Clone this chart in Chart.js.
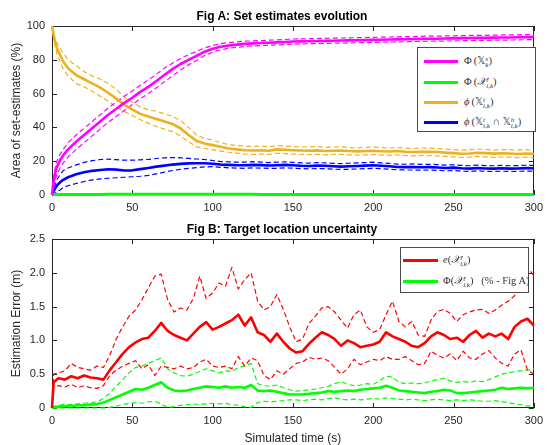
<!DOCTYPE html>
<html>
<head>
<meta charset="utf-8">
<script src="https://cdn.jsdelivr.net/npm/chart.js@4.4.1/dist/chart.umd.min.js"></script>
<style>
  body { margin:0; background:#fff; }
  #wrap { position:relative; width:549px; height:445px; overflow:hidden; background:#fff; }
  canvas { position:absolute; left:0; }
  .ttl { position:absolute; left:0; width:564px; text-align:center; font:bold 12px "Liberation Sans", Arial, sans-serif; color:#000; line-height:14px; }
  .leg { position:absolute; border:1px solid #4a4a4a; background:#fff; }
  .row { position:absolute; left:0; right:0; height:0; }
  .ln { position:absolute; height:3px; }
  .tx { position:absolute; top:-7px; white-space:nowrap; font:10.5px "Liberation Serif", "DejaVu Serif", serif; color:#333; line-height:14px; }
  .ms { display:inline-block; vertical-align:-3px; line-height:6.5px; font-size:7px; font-style:italic; }
  .ms b { display:block; font-weight:normal; }
  .bb { font-family:"DejaVu Sans", "DejaVu Serif", sans-serif; font-size:10px; }
</style>
</head>
<body>
<div id="wrap">
  <canvas id="ca" width="549" height="222" style="top:0"></canvas>
  <canvas id="cb" width="549" height="223" style="top:222px"></canvas>
  <div class="ttl" style="top:9px">Fig A: Set estimates evolution</div>
  <div class="ttl" style="top:222px">Fig B: Target location uncertainty</div>

  <div class="leg" style="left:417px;top:47px;width:117px;height:83px">
    <div class="row" style="top:13px"><span class="ln" style="left:6px;width:34px;top:-1.5px;background:#ff00ff"></span><span class="tx" style="left:46px">Φ&thinsp;(<span class="bb">𝕏</span><span class="ms"><b>s</b><b>k</b></span>)</span></div>
    <div class="row" style="top:34px"><span class="ln" style="left:6px;width:34px;top:-1.5px;background:#00ff00"></span><span class="tx" style="left:46px">Φ&thinsp;(<i>𝒳</i><span class="ms"><b>t</b><b>i,k</b></span>)</span></div>
    <div class="row" style="top:54px"><span class="ln" style="left:6px;width:34px;top:-1.5px;background:#edb120"></span><span class="tx" style="left:46px"><i>ϕ</i>&thinsp;(<span class="bb">𝕏</span><span class="ms"><b>t</b><b>i,k</b></span>)</span></div>
    <div class="row" style="top:74px"><span class="ln" style="left:6px;width:34px;top:-1.5px;background:#0000ff"></span><span class="tx" style="left:46px"><i>ϕ</i>&thinsp;(<span class="bb">𝕏</span><span class="ms"><b>t</b><b>i,k</b></span> ∩ <span class="bb">𝕏</span><span class="ms"><b>h</b><b>i,k</b></span>)</span></div>
  </div>

  <div class="leg" style="left:400px;top:247px;width:127px;height:44px">
    <div class="row" style="top:12px"><span class="ln" style="left:2px;width:35px;top:-1.5px;background:#ff0000"></span><span class="tx" style="left:42px"><i>e</i>(<i>𝒳</i><span class="ms"><b>t</b><b>i,k</b></span>)</span></div>
    <div class="row" style="top:33px"><span class="ln" style="left:2px;width:35px;top:-1.5px;background:#00ff00"></span><span class="tx" style="left:42px">Φ(<i>𝒳</i><span class="ms"><b>t</b><b>i,k</b></span>)&nbsp;&nbsp;&nbsp;(% - Fig A)</span></div>
  </div>
</div>

<script>
// ---------- tick labels ----------
const xTicks  = [0, 50, 100, 150, 200, 250, 300];
const yTicksA = [0, 20, 40, 60, 80, 100];
const yTicksB = [0, 0.5, 1, 1.5, 2, 2.5];

// ---------- Fig A: time samples (s) ----------
const tA = [0,1,2,3,5,7,10,15,20,25,30,35,40,45,50,55,60,65,70,75,80,85,90,95,100,105,110,115,120,125,130,135,140,145,150,155,160,165,170,175,180,185,190,195,200,205,210,215,220,225,230,235,240,245,250,255,260,265,270,275,280,285,290,295,300];

// Phi(X_k^s) magenta
const magMean = [0,8,13,16.5,20.5,23.5,
  27,31.5,35.5,39.5,43.5,47.5,51,54.5,57.5,61,
  64,67.5,71,74.5,77.5,80,82.3,84.8,86.5,87.7,
  88.5,89,89.4,89.7,89.9,90.1,90.3,90.5,90.8,90.9,
  91,91.1,91.2,91.3,91.4,91.5,91.6,91.7,91.8,91.9,
  92,92.1,92.2,92.3,92.4,92.5,92.5,92.6,92.7,92.8,
  92.9,93,93,93.1,93.2,93.2,93.3,93.4,93.4];
const magUp = [0,10,16,20,24,27,
  31,35.5,39.5,43.5,47.5,51.5,55,58.5,61.5,65,
  68,71.5,75,78,80.8,83,85,87,88.5,89.5,
  90.2,90.6,91,91.2,91.4,91.6,91.8,92,92.3,92.4,
  92.5,92.6,92.7,92.8,92.9,93,93.1,93.2,93.3,93.4,
  93.5,93.6,93.7,93.8,93.9,94,94,94.1,94.2,94.3,
  94.4,94.5,94.5,94.6,94.7,94.7,94.8,94.9,94.9];
const magLo = [0,5,9,12,16,19,
  22.5,27,31,35,39,43,46.5,50,53.5,57,
  60,63.5,67,70.5,74,77,79.6,82.5,84.5,85.9,
  86.8,87.4,87.8,88.2,88.4,88.6,88.8,89,89.3,89.4,
  89.5,89.6,89.7,89.8,89.9,90,90.1,90.2,90.3,90.4,
  90.5,90.6,90.7,90.8,90.9,91,91,91.1,91.2,91.3,
  91.4,91.5,91.5,91.6,91.7,91.7,91.8,91.9,91.9];

// Phi(X_ik^t) green
const grnA = [0,0.2,0.3,0.3,0.3,0.3,
  0.3,0.3,0.3,0.3,0.3,0.4,0.4,0.4,0.5,0.5,
  0.5,0.5,0.4,0.4,0.4,0.4,0.4,0.4,0.4,0.4,
  0.4,0.4,0.4,0.4,0.3,0.3,0.3,0.3,0.3,0.3,
  0.3,0.3,0.3,0.3,0.3,0.3,0.3,0.3,0.3,0.3,
  0.3,0.3,0.3,0.3,0.3,0.3,0.3,0.3,0.3,0.3,
  0.3,0.3,0.3,0.3,0.3,0.3,0.3,0.3,0.3];

// phi(X_ik^t) orange
const orMean = [100,95,90,87,83,79,
  75,71,68.5,66,63.5,60.5,57,53.5,50.5,48,
  46.5,45,43.5,42,39.5,35.5,32,30.5,29.5,28.5,
  27.5,27,26.5,26.3,26.5,26.2,27,26.8,26.5,26.3,
  26.2,26.4,26,26.2,26.3,26,25.8,26,26.2,25.9,
  25.7,26,25.6,25.4,25.6,25.5,25.4,25.1,24.8,24.4,
  24.6,25,24.8,24.5,24.7,24.6,24.3,24.6,24.4];
const orUp = [100,96,92,90,87,84,
  80,76.5,73,70.5,68.5,66,62.5,58,55,52,
  50.5,49.5,48,46.5,44,40,35.5,33.5,32.5,31,
  29.8,29.3,29,28.7,29,28.5,29.3,29,28.7,28.4,
  28.5,28.6,28.2,28.4,28.5,28.1,27.9,28.2,28.4,28,
  27.8,28.1,27.7,27.5,27.8,27.7,27.5,27.2,26.9,26.5,
  26.8,27.2,27,26.6,26.8,26.8,26.5,26.8,26.5];
const orLo = [100,94,88,84,79,74.5,
  70.5,66,64,61.5,58.5,55.5,52,49.5,47,44.5,
  42.5,40.5,39,37.5,35,31.5,28.5,27.5,26.8,26,
  25.3,24.8,24.2,24,24.2,24,24.7,24.5,24.2,24.1,
  23.9,24.1,23.8,24,24,23.8,23.6,23.8,24,23.7,
  23.5,23.8,23.4,23.2,23.4,23.3,23.2,22.9,22.6,22.2,
  22.4,22.8,22.6,22.3,22.5,22.4,22.1,22.4,22.2];

// phi(X_ik^t ∩ X_ik^h) blue
const blMean = [0,2,4,5.5,7.5,9,
  10.5,12.3,13.5,14.3,14.8,15.2,15,14.5,14.6,15.3,
  16,16.8,17.4,18,18.4,18.7,18.8,18.8,18.5,18,
  17.8,17.6,17.6,17.8,17.7,17.5,17.6,17.8,17.6,17.3,
  17.2,17.4,17.3,17,16.8,17,17.2,17.4,17.6,17.3,
  17,16.6,16.5,16.6,16.4,16.5,16.3,16,16.2,15.8,
  15.6,16,15.7,15.6,15.8,15.6,15.7,15.9,15.8];
const blUp = [0,3,6,9,12,14.5,
  16,17.8,19.3,20.3,21,21.2,20.9,20.6,20.6,20.8,
  21.1,21.6,22,22.2,22,21.7,21.3,21,20.4,19.8,
  19.6,19.4,19.5,19.7,19.5,19.2,19.4,19.6,19.3,19,
  18.9,19.2,19,18.7,18.6,18.8,19,19.2,19.4,19,
  18.7,18.3,18.2,18.4,18.1,18.2,18,17.7,17.9,17.5,
  17.3,17.7,17.4,17.3,17.5,17.3,17.4,17.6,17.5];
const blLo = [0,0.5,1,2,3,4.5,
  5.5,6.8,8,8.9,9.5,9.9,10.2,10.5,10.8,11.1,
  11.6,12.5,13.5,14.5,15.2,15.7,16.2,16.6,16.8,16.4,
  16.1,15.9,15.8,16,15.9,15.8,15.8,16,15.9,15.6,
  15.5,15.6,15.6,15.3,15.1,15.2,15.4,15.6,15.8,15.6,
  15.3,14.9,14.8,14.8,14.7,14.8,14.6,14.3,14.5,14.1,
  13.9,14.3,14,13.9,14.1,13.9,14,14.2,14.1];

// ---------- Fig B: time samples (s) ----------
const tB = [0,1,4,8,12,16,20,24,28,32,36,40,44,48,52,56,60,64,68,72,76,80,84,88,92,96,100,104,108,112,116,120,124,128,132,136,140,144,148,152,156,160,164,168,172,176,180,184,188,192,196,200,204,208,212,216,220,224,228,232,236,240,244,248,252,256,260,264,268,272,276,280,284,288,292,296,300];

// e(X_ik^t) red (m)
const redMean = [0,0.38,0.44,0.42,0.47,0.44,0.48,0.45,0.44,0.42,
  0.56,0.68,0.8,0.9,0.97,1.02,1.04,1.14,1.26,1.14,
  1.08,1.04,1.0,1.1,1.2,1.27,1.16,1.2,1.25,1.3,
  1.38,1.22,1.34,1.12,1.08,0.98,1.1,0.98,0.88,0.82,
  0.84,0.95,1.04,1.12,1.08,1.02,0.92,1.0,0.96,0.9,
  0.92,0.94,0.98,1.12,1.06,1.02,0.98,0.92,0.9,0.96,
  1.06,1.12,1.08,1.02,1.04,0.98,1.08,1.14,1.04,1.1,
  1.06,1.1,1.02,1.2,1.28,1.32,1.22];
const redUp = [0,0.5,0.52,0.55,0.66,0.6,0.58,0.56,0.62,0.6,
  0.78,1.02,1.2,1.36,1.45,1.6,1.78,1.95,1.98,1.6,
  1.42,1.48,1.45,1.62,1.95,1.62,1.7,1.85,1.8,2.08,
  1.76,1.9,2.0,1.58,1.45,1.5,1.68,1.46,1.2,0.98,
  1.02,1.25,1.36,1.48,1.5,1.42,1.3,1.18,1.38,1.45,
  1.2,1.12,1.16,1.38,1.58,1.28,1.2,1.28,1.08,1.06,
  1.3,1.43,1.46,1.4,1.28,1.38,1.42,1.45,1.46,1.4,
  1.45,1.52,1.58,1.66,1.85,2.08,1.96];
const redLo = [0,0.3,0.33,0.31,0.35,0.3,0.33,0.3,0.29,0.33,
  0.48,0.56,0.62,0.66,0.7,0.58,0.64,0.48,0.62,0.6,
  0.58,0.62,0.58,0.6,0.68,0.72,0.62,0.6,0.62,0.58,
  0.76,0.62,0.74,0.7,0.48,0.42,0.55,0.5,0.58,0.66,
  0.68,0.75,0.72,0.74,0.7,0.6,0.5,0.58,0.72,0.64,
  0.68,0.72,0.7,0.76,0.72,0.72,0.76,0.7,0.64,0.66,
  0.84,0.78,0.74,0.8,0.7,0.84,0.74,0.72,0.8,0.85,
  0.74,0.66,0.62,0.8,0.86,0.56,0.5];

// Phi(X_ik^t) green (% - Fig A)
const gMean = [0,0.01,0.02,0.03,0.03,0.04,0.04,0.05,0.06,0.08,
  0.12,0.16,0.2,0.24,0.28,0.27,0.3,0.34,0.38,0.3,
  0.26,0.25,0.26,0.28,0.3,0.32,0.31,0.3,0.32,0.3,
  0.31,0.3,0.34,0.26,0.25,0.26,0.24,0.22,0.2,0.2,
  0.2,0.21,0.22,0.23,0.25,0.24,0.25,0.26,0.25,0.27,
  0.28,0.29,0.3,0.33,0.3,0.26,0.25,0.24,0.23,0.22,
  0.24,0.25,0.27,0.26,0.22,0.22,0.23,0.24,0.25,0.26,
  0.27,0.3,0.28,0.29,0.3,0.29,0.3];
const gUp = [0,0.02,0.04,0.05,0.05,0.06,0.07,0.08,0.09,0.14,
  0.22,0.32,0.42,0.52,0.6,0.62,0.66,0.7,0.74,0.58,
  0.52,0.48,0.47,0.5,0.54,0.58,0.55,0.52,0.55,0.54,
  0.6,0.62,0.66,0.36,0.33,0.32,0.34,0.3,0.27,0.25,
  0.26,0.27,0.28,0.3,0.32,0.36,0.39,0.35,0.33,0.34,
  0.36,0.35,0.4,0.47,0.46,0.38,0.36,0.37,0.36,0.37,
  0.4,0.42,0.44,0.4,0.38,0.39,0.38,0.4,0.39,0.42,
  0.46,0.5,0.52,0.54,0.55,0.56,0.58];
const gLo = [0,0,0,0,0,0,0,0,0,0,
  0.01,0.03,0.05,0.07,0.08,0.07,0.09,0.1,0.06,0.01,
  0.02,0.04,0.05,0.06,0.05,0.06,0.07,0.06,0.07,0.05,
  0.04,0.02,0.01,0.08,0.1,0.09,0.1,0.11,0.12,0.12,
  0.11,0.12,0.13,0.12,0.14,0.15,0.13,0.12,0.13,0.12,
  0.13,0.14,0.13,0.15,0.14,0.13,0.12,0.13,0.12,0.11,
  0.12,0.13,0.12,0.11,0.12,0.11,0.12,0.11,0.1,0.1,
  0.11,0.09,0.08,0.06,0.05,0.03,0.03];

// ---------- helpers ----------
const C = { mag:'#ff00ff', grn:'#00ff00', org:'#edb120', blu:'#0000ff', red:'#ff0000' };
function pts(t, v) { return t.map((x, i) => ({ x: x, y: v[i] })); }
function solid(t, v, color, w) {
  return { data: pts(t, v), borderColor: color, borderWidth: w || 2.6, pointRadius: 0, tension: 0, fill: false, order: 0, clip: false };
}
function dashed(t, v, color) {
  return { data: pts(t, v), borderColor: color, borderWidth: 1.2, borderDash: [5, 3], pointRadius: 0, tension: 0, fill: false, order: 1, clip: false };
}

const AXC = '#262626';
const boxPlugin = {
  id: 'mbox',
  beforeDatasetsDraw(chart) {
    const { ctx, chartArea: a, scales } = chart;
    ctx.save();
    ctx.strokeStyle = AXC;
    ctx.lineWidth = 1;
    ctx.strokeRect(Math.round(a.left) + 0.5, Math.round(a.top) + 0.5, Math.round(a.right - a.left) - 1, Math.round(a.bottom - a.top) - 1);
    const L = 5;
    ctx.beginPath();
    scales.x.ticks.forEach(t => {
      const px = Math.round(scales.x.getPixelForValue(t.value)) + 0.5;
      ctx.moveTo(px, a.bottom); ctx.lineTo(px, a.bottom - L);
      ctx.moveTo(px, a.top); ctx.lineTo(px, a.top + L);
    });
    scales.y.ticks.forEach(t => {
      const py = Math.round(scales.y.getPixelForValue(t.value)) + 0.5;
      ctx.moveTo(a.left, py); ctx.lineTo(a.left + L, py);
      ctx.moveTo(a.right, py); ctx.lineTo(a.right - L, py);
    });
    ctx.stroke();
    ctx.restore();
  }
};

const tickFont = { family: '"Liberation Sans", Arial, sans-serif', size: 11 };
const titleFont = { family: '"Liberation Sans", Arial, sans-serif', size: 12, lineHeight: 1 };

function xScale(xh, withTitle) {
  return {
    type: 'linear', min: 0, max: 300,
    afterBuildTicks: s => { s.ticks = xTicks.map(v => ({ value: v })); },
    afterFit: s => { s.height = xh; },
    ticks: { font: tickFont, color: AXC, padding: 6, autoSkip: false, maxRotation: 0 },
    grid: { display: false, drawTicks: false }, border: { display: false },
    title: withTitle ? { display: true, text: 'Simulated time (s)', font: titleFont, color: AXC, padding: { top: 0, bottom: 0 } } : { display: false }
  };
}
function yScale(min, max, ticksArr, label) {
  return {
    type: 'linear', min: min, max: max,
    afterBuildTicks: s => { s.ticks = ticksArr.map(v => ({ value: v })); },
    afterFit: s => { s.width = 52; },
    ticks: { font: tickFont, color: AXC, padding: 7, autoSkip: false },
    grid: { display: false, drawTicks: false }, border: { display: false },
    title: { display: true, text: label, font: titleFont, color: AXC, padding: { top: 11, bottom: 0 } }
  };
}
const common = {
  responsive: false, animation: false, devicePixelRatio: 1,
  plugins: { legend: { display: false }, title: { display: false }, tooltip: { enabled: false } },
  elements: { line: { borderCapStyle: 'butt', borderJoinStyle: 'round' } }
};

new Chart(document.getElementById('ca'), {
  type: 'line',
  data: { datasets: [
    solid(tA, magMean, C.mag), dashed(tA, magUp, C.mag), dashed(tA, magLo, C.mag),
    solid(tA, grnA, C.grn, 3),
    solid(tA, orMean, C.org), dashed(tA, orUp, C.org), dashed(tA, orLo, C.org),
    solid(tA, blMean, C.blu), dashed(tA, blUp, C.blu), dashed(tA, blLo, C.blu)
  ] },
  options: Object.assign({}, common, {
    layout: { padding: { top: 26, right: 11, left: 0, bottom: 0 } },
    scales: { x: xScale(27, false), y: yScale(0, 100, yTicksA, 'Area of set-estimates (%)') }
  }),
  plugins: [boxPlugin]
});

new Chart(document.getElementById('cb'), {
  type: 'line',
  data: { datasets: [
    solid(tB, redMean, C.red), dashed(tB, redUp, C.red), dashed(tB, redLo, C.red),
    solid(tB, gMean, C.grn), dashed(tB, gUp, C.grn), dashed(tB, gLo, C.grn)
  ] },
  options: Object.assign({}, common, {
    layout: { padding: { top: 17, right: 11, left: 0, bottom: 0 } },
    scales: { x: xScale(37, true), y: yScale(0, 2.5, yTicksB, 'Estimation Error (m)') }
  }),
  plugins: [boxPlugin]
});
</script>
</body>
</html>
